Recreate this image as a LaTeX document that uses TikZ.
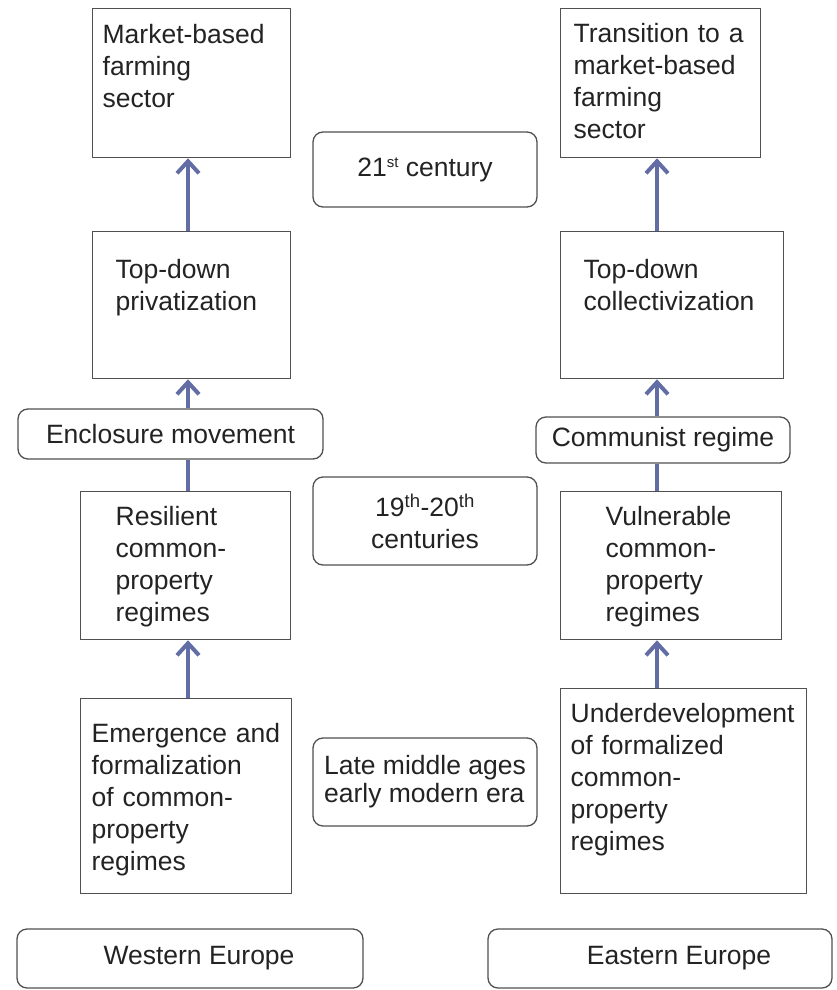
\documentclass[tikz,border=0pt]{standalone}
\usepackage{fontspec}
\setmainfont{Liberation Sans}
\usepackage{tikz}
\usetikzlibrary{arrows.meta,positioning}
\usepackage{xcolor}

\definecolor{boxline}{RGB}{80,80,80}
\definecolor{flowblue}{RGB}{98,108,165}
\definecolor{inkgray}{RGB}{35,35,35}

\tikzset{
  stage/.style={draw=boxline, line width=1.3pt, rectangle, anchor=north west,
    align=left, inner ysep=0pt, text=inkgray},
  era/.style={draw=boxline, line width=1.3pt, rounded corners=10pt,
    align=center, inner sep=0pt, text=inkgray},
  flow/.style={draw=flowblue, line width=4pt, -{Straight Barb[length=12pt,width=22pt]}},
  link/.style={draw=flowblue, line width=4pt}
}

\begin{document}
\begin{tikzpicture}[x=1pt, y=-1pt, font=\fontsize{26.5}{32}\selectfont]
\useasboundingbox (0,0) rectangle (836,990);
\coordinate (wax) at (188,0);
\coordinate (eax) at (657,0);

% Western Europe column
\node[stage, inner xsep=10pt, text width=178pt, text height=35pt, text depth=114pt] (mkt) at (92,8) {Market-based\\farming\\sector};
\node[stage, inner xsep=23pt, text width=152pt, text height=47pt, text depth=100pt] (priv) at (92,231) {Top-down\\privatization};
\node[era, minimum width=305pt, minimum height=50pt] (enc) at (170.5,434) {Enclosure movement};
\node[stage, inner xsep=35pt, text width=140pt, text height=34pt, text depth=114pt] (res) at (80,491) {Resilient\\common-\\property\\regimes};
\node[stage, inner xsep=11pt, text width=189pt, text height=44pt, text depth=151pt] (emg) at (80,698) {Emergence and\\formalization\\of common-\\property\\regimes};
\node[era, minimum width=346pt, minimum height=59pt] (west) at (190,958.5) {\hspace*{18pt}Western Europe};

% Eastern Europe column
\node[stage, inner xsep=13pt, text width=174pt, text height=34pt, text depth=115pt] (trn) at (560,8) {Transition to a\\market-based\\farming\\sector};
\node[stage, inner xsep=23pt, text width=177pt, text height=47pt, text depth=100pt] (col) at (560,231) {Top-down\\collectivization};
\node[era, minimum width=254pt, minimum height=46pt] (com) at (663,440) {Communist regime};
\node[stage, inner xsep=45pt, text width=131pt, text height=34pt, text depth=114pt] (vul) at (560,491) {Vulnerable\\common-\\property\\regimes};
\node[stage, inner xsep=10pt, text width=226pt, text height=34pt, text depth=171pt] (und) at (560,688) {Underdevelopment\\of formalized\\common-\\property\\regimes};
\node[era, minimum width=344pt, minimum height=59pt] (east) at (660,958.5) {\hspace*{38pt}Eastern Europe};

% periods
\node[era, minimum width=224pt, minimum height=75pt] (c21) at (425,169.5) {21{\fontsize{15}{15}\selectfont\raisebox{0.6em}{st}} century};
\node[era, minimum width=224pt, minimum height=88pt] (c19) at (425,521) {19\textsuperscript{th}-20\textsuperscript{th}\\centuries};
\node[era, minimum width=224pt, minimum height=88pt, align=left, font=\fontsize{26.5}{28}\selectfont] (late) at (425,782) {Late middle ages\\early modern era};

% arrows
\draw[flow] (priv.north -| wax) -- (mkt.south -| wax);
\draw[flow] (enc.north -| wax) -- (priv.south -| wax);
\draw[link] (res.north -| wax) -- (enc.south -| wax);
\draw[flow] (emg.north -| wax) -- (res.south -| wax);
\draw[flow] (col.north -| eax) -- (trn.south -| eax);
\draw[flow] (com.north -| eax) -- (col.south -| eax);
\draw[link] (vul.north -| eax) -- (com.south -| eax);
\draw[flow] (und.north -| eax) -- (vul.south -| eax);
\end{tikzpicture}
\end{document}
